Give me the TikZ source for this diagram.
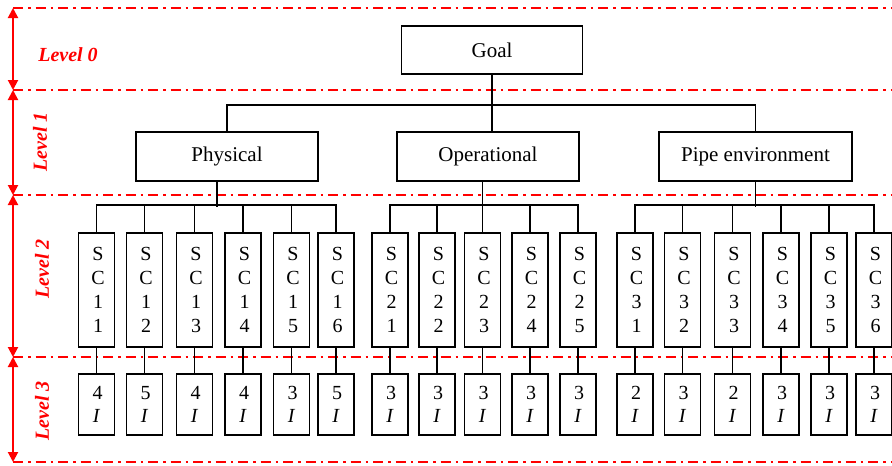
\documentclass[tikz,border=0pt]{standalone}
\usepackage{fontspec}
\setmainfont{Liberation Serif}
\usetikzlibrary{arrows.meta}
\definecolor{lvred}{RGB}{255,0,0}
\tikzset{
  x=1pt, y=-1pt,
  topbox/.style={draw, line width=1.5pt, minimum width=181pt, minimum height=48pt, inner sep=0pt,
    font=\fontsize{21}{24}\selectfont},
  midbox/.style={draw, line width=1.5pt, minimum height=49pt, inner sep=0pt,
    font=\fontsize{21}{24}\selectfont},
  scbox/.style={draw, line width=1.3pt, minimum width=36pt, minimum height=114pt, inner sep=0pt,
    align=center, font=\fontsize{20}{24}\selectfont},
  ibox/.style={draw, line width=1.3pt, minimum width=36pt, minimum height=61pt, inner sep=0pt,
    align=center, font=\fontsize{20}{23}\selectfont},
  link/.style={line width=1.9pt},
  reddash/.style={lvred, line width=1.5pt, dash pattern=on 10pt off 5pt on 2.5pt off 5pt},
  redarrow/.style={lvred, line width=2pt, {Triangle[width=10pt,length=10pt]}-{Triangle[width=10pt,length=10pt]}},
  lvlabel/.style={lvred, font=\fontsize{20}{24}\selectfont\bfseries\itshape},
}
\begin{document}
\begin{tikzpicture}
\useasboundingbox (0,0) rectangle (892,466);
% level boundaries
\coordinate (y0) at (13,8);
\coordinate (y1) at (13,90);
\coordinate (y2) at (13,195);
\coordinate (y3) at (13,357);
\coordinate (y4) at (13,462);
\foreach \c in {y0,y1,y2,y3,y4} \draw[reddash] (\c) -- (\c -| 892,0);
\draw[redarrow] (y0) -- (y1);
\draw[redarrow] (y1) -- (y2);
\draw[redarrow] (y2) -- (y3);
\draw[redarrow] (y3) -- (y4);
\node[lvlabel] (l0) at (68,55) {Level 0};
\node[lvlabel, rotate=90] (l1) at (40,142) {Level 1};
\node[lvlabel, rotate=90] (l2) at (42,269) {Level 2};
\node[lvlabel, rotate=90] (l3) at (42,411) {Level 3};

% level 0 and 1
\node[topbox] (goal) at (492,50) {Goal};
\node[midbox, minimum width=182pt] (phys) at (227,156.5) {Physical};
\node[midbox, minimum width=182pt] (oper) at (488,156.5) {Operational};
\node[midbox, minimum width=193pt] (pipe) at (755.5,156.5) {Pipe environment};

\draw[link] (goal.south) -- (goal.south |- oper.north);
\draw[link] (phys.north) -- ++(0,-26) -| (pipe.north);

% level 2 and 3
\foreach \name/\x/\a/\b/\n in {
  s11/96.5/1/1/4, s12/144.5/1/2/5, s13/194.5/1/3/4, s14/243/1/4/4, s15/291.5/1/5/3, s16/336/1/6/5,
  s21/390/2/1/3, s22/437/2/2/3, s23/482.5/2/3/3, s24/530/2/4/3, s25/578/2/5/3,
  s31/635/3/1/2, s32/682.5/3/2/3, s33/732.5/3/3/2, s34/781/3/4/3, s35/829/3/5/3, s36/874/3/6/3} {
  \node[scbox] (\name) at (\x,290) {\hspace*{3pt}S\\\hspace*{3pt}C\\\hspace*{3pt}\a\\\hspace*{3pt}\b};
  \node[ibox] (i\name) at (\x,404.5) {\hspace*{2pt}\n\\\textit{I}};
  \draw[link] (\name.south) -- (i\name.north);
}

% group buses
\draw[link] ([xshift=-10pt]phys.south) -- ++(0,25);
\draw[link] (s11.north) -- ++(0,-27) -| (s16.north);
\foreach \s in {s12,s13,s14,s15} \draw[link] (\s.north) -- ++(0,-27);

\draw[link] ([xshift=-5.5pt]oper.south) -- ++(0,26);
\draw[link] (s21.north) -- ++(0,-27) -| (s25.north);
\foreach \s in {s22,s23,s24} \draw[link] (\s.north) -- ++(0,-27);

\draw[link] (pipe.south) -- ++(0,25);
\draw[link] (s31.north) -- ++(0,-27) -| (s36.north);
\foreach \s in {s32,s33,s34,s35} \draw[link] (\s.north) -- ++(0,-27);
\end{tikzpicture}
\end{document}
